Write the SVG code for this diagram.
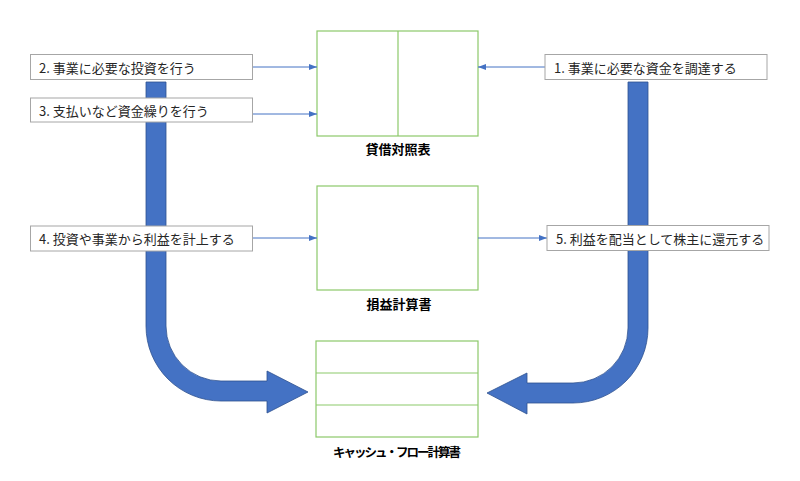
<svg xmlns="http://www.w3.org/2000/svg" width="800" height="481" viewBox="0 0 800 481">
<style>
.lbl rect{fill:#fff;stroke:#A6A6A6;stroke-width:1}
.lbl text{font-family:"Noto Sans CJK JP","Noto Sans",sans-serif;font-size:13px;fill:#262626;dominant-baseline:central}
.stmt rect,.stmt line{fill:#fff;stroke:#8CC96A;stroke-width:1.2}
.title{font-family:"Noto Sans CJK JP","Noto Sans",sans-serif;font-size:13px;font-weight:bold;fill:#000;text-anchor:middle}
.conn{stroke:#4472C4;stroke-width:1;fill:none;marker-end:url(#ah)}
.big{fill:#4472C4;stroke:#2F528F;stroke-width:0.8}
</style>
<defs>
<marker id="ah" viewBox="0 0 8 8" refX="8" refY="4" markerWidth="8" markerHeight="8" markerUnits="userSpaceOnUse" orient="auto">
<path d="M0,1 L8,4 L0,7 Z" fill="#4472C4"/>
</marker>
</defs>
<rect width="800" height="481" fill="#fff"/>
<g id="flow-arrows">
<path class="big" d="M146,82 H166 V326 A55,55 0 0 0 221,381 H267 V371 L308,392 L267,413 V401 H221 A75,75 0 0 1 146,326 Z"/>
<path class="big" d="M628,82 H648 V328 A75,75 0 0 1 573,403 H527 V414 L487,393 L527,373 V383 H573 A55,55 0 0 0 628,328 Z"/>
</g>
<g id="balance-sheet" class="stmt">
<rect x="317" y="31" width="161" height="105"/>
<line x1="398" y1="31" x2="398" y2="136"/>
<text class="title" x="398" y="154">貸借対照表</text>
</g>
<g id="income-statement" class="stmt">
<rect x="317" y="186" width="161" height="104"/>
<text class="title" x="399" y="309">損益計算書</text>
</g>
<g id="cash-flow" class="stmt">
<rect x="316" y="341" width="162" height="96"/>
<line x1="316" y1="373" x2="478" y2="373"/>
<line x1="316" y1="405" x2="478" y2="405"/>
<text class="title" x="397" y="457" style="font-size:12.5px" textLength="128" lengthAdjust="spacing">キャッシュ・フロー計算書</text>
</g>
<g id="connectors">
<line class="conn" x1="252" y1="67" x2="317" y2="67"/>
<line class="conn" x1="252" y1="114" x2="317" y2="114"/>
<line class="conn" x1="545" y1="67" x2="478" y2="67"/>
<line class="conn" x1="252" y1="238" x2="317" y2="238"/>
<line class="conn" x1="478" y1="238" x2="547" y2="238"/>
</g>
<g id="step1" class="lbl">
<rect x="545" y="54.5" width="222" height="25"/>
<text x="554" y="67">1. 事業に必要な資金を調達する</text>
</g>
<g id="step2" class="lbl">
<rect x="30.5" y="54.5" width="222" height="25"/>
<text x="39" y="67">2. 事業に必要な投資を行う</text>
</g>
<g id="step3" class="lbl">
<rect x="30.5" y="98" width="222" height="24"/>
<text x="39" y="110">3. 支払いなど資金繰りを行う</text>
</g>
<g id="step4" class="lbl">
<rect x="30.5" y="226" width="222" height="25"/>
<text x="39" y="238.5">4. 投資や事業から利益を計上する</text>
</g>
<g id="step5" class="lbl">
<rect x="547" y="225.5" width="222" height="25"/>
<text x="556" y="238">5. 利益を配当として株主に還元する</text>
</g>
</svg>
